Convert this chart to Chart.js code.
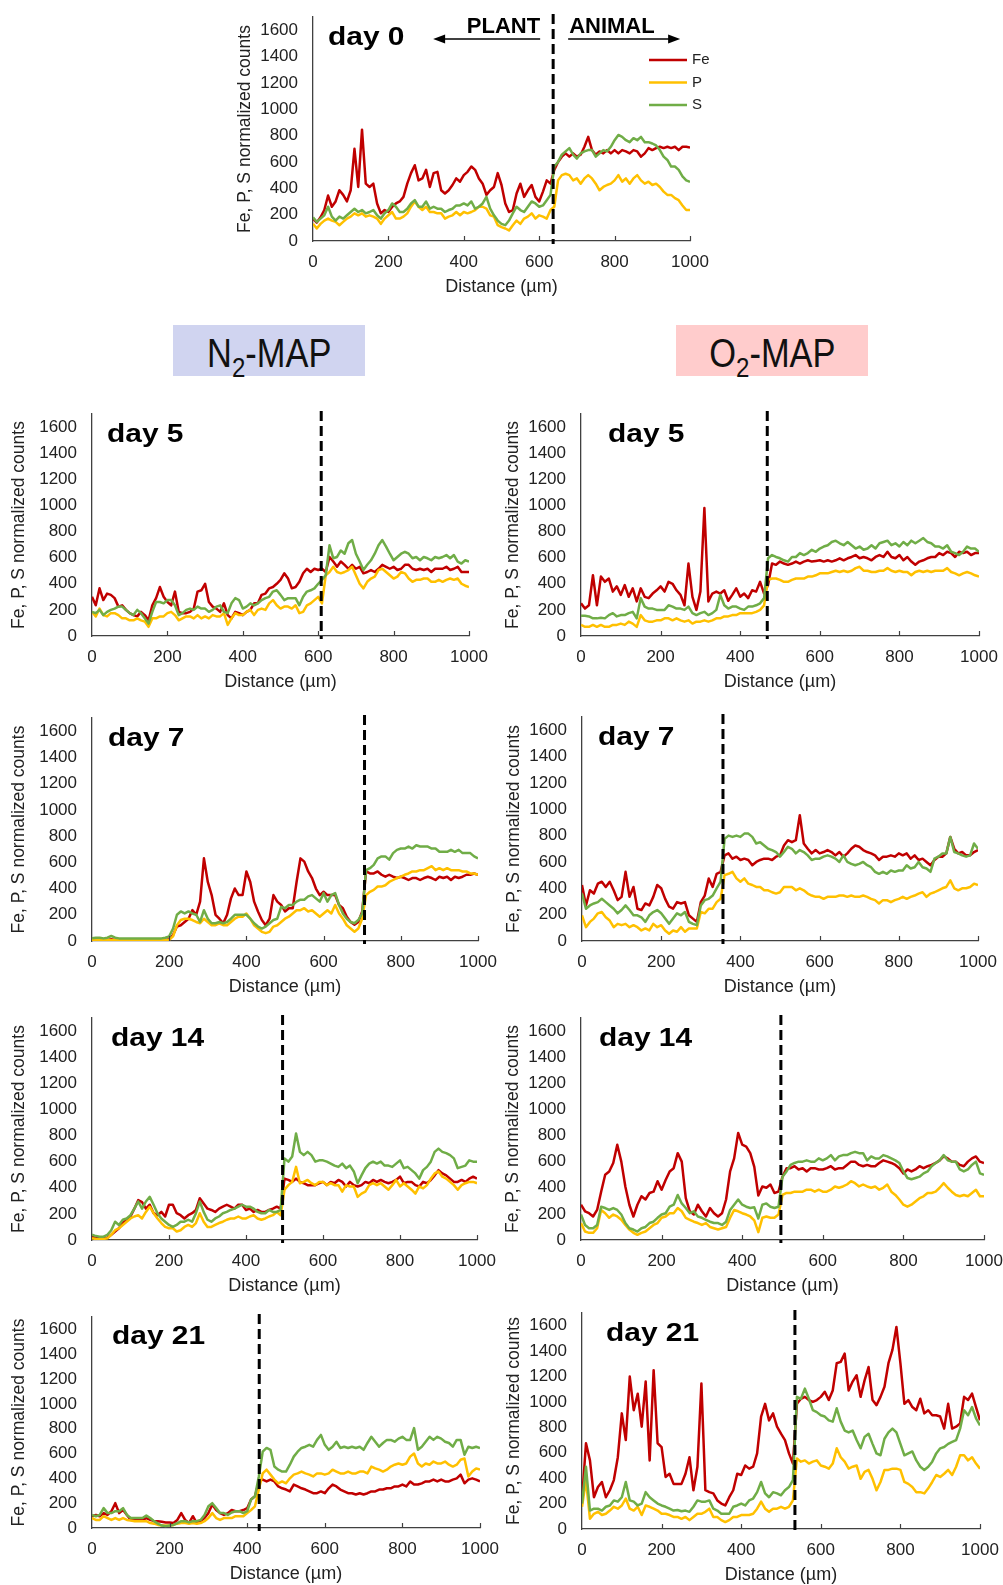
<!DOCTYPE html>
<html>
<head>
<meta charset="utf-8">
<script src="https://cdn.jsdelivr.net/npm/chart.js@4.4.0/dist/chart.umd.min.js"></script>
<style>
    body { margin: 0; background: #fff; width: 1003px; height: 1585px; position: relative; overflow: hidden;
           font-family: "Liberation Sans", Arial, sans-serif; }
    canvas { position: absolute; }
    .tag { position: absolute; top: 325px; width: 192px; height: 51px; display: flex; align-items: center; justify-content: center; }
    .tag span { font-size: 40px; color: #111; display: inline-block; transform: scaleX(0.86); line-height: 1; margin-top: 4px; }
    .tag sub { font-size: 28px; vertical-align: -10px; line-height: 0; }
</style>
</head>
<body>
<div class="tag" style="left:173px;background:#d0d4f0"><span>N<sub>2</sub>-MAP</span></div>
<div class="tag" style="left:676px;background:#ffcccc"><span>O<sub>2</sub>-MAP</span></div>
<script>
var distance = [0, 10, 20, 30, 40, 50, 60, 70, 80, 90, 100, 110, 120, 130, 140, 150, 160, 170, 180, 190,
    200, 210, 220, 230, 240, 250, 260, 270, 280, 290, 300, 310, 320, 330, 340, 350, 360, 370, 380, 390,
    400, 410, 420, 430, 440, 450, 460, 470, 480, 490, 500, 510, 520, 530, 540, 550, 560, 570, 580, 590,
    600, 610, 620, 630, 640, 650, 660, 670, 680, 690, 700, 710, 720, 730, 740, 750, 760, 770, 780, 790,
    800, 810, 820, 830, 840, 850, 860, 870, 880, 890, 900, 910, 920, 930, 940, 950, 960, 970, 980, 990, 1000];
var xTicks = [0, 200, 400, 600, 800, 1000];
var yTicks = [0, 200, 400, 600, 800, 1000, 1200, 1400, 1600];
var seriesNames = ["Fe", "P", "S"];

// day 0
var day0Fe = [170, 140, 180, 235, 345, 260, 300, 385, 350, 300, 385, 700, 410, 845, 435, 410, 435, 285, 210, 235,
    220, 260, 285, 300, 335, 435, 515, 575, 460, 475, 540, 410, 515, 525, 385, 360, 385, 425, 475, 450,
    500, 525, 565, 540, 475, 435, 350, 385, 410, 515, 425, 285, 220, 235, 360, 435, 335, 385, 425, 335,
    300, 375, 460, 435, 540, 600, 640, 665, 640, 665, 640, 655, 715, 790, 690, 655, 680, 665, 690, 665,
    690, 665, 690, 680, 665, 690, 680, 640, 665, 705, 690, 705, 715, 705, 715, 705, 715, 690, 715, 715, 710];
var day0P = [130, 95, 130, 155, 170, 155, 145, 120, 145, 170, 185, 210, 195, 210, 185, 195, 185, 170, 130, 170,
    195, 220, 170, 170, 185, 210, 260, 300, 260, 235, 260, 220, 220, 210, 210, 170, 185, 195, 220, 195,
    220, 210, 220, 235, 260, 260, 245, 195, 185, 120, 105, 95, 80, 120, 155, 130, 170, 185, 210, 170,
    195, 185, 170, 235, 260, 460, 500, 510, 500, 460, 475, 435, 475, 500, 475, 435, 385, 410, 425, 435,
    460, 500, 450, 475, 435, 475, 500, 460, 435, 450, 425, 435, 410, 375, 350, 350, 325, 310, 270, 235, 235];
var day0S = [180, 145, 170, 195, 260, 185, 155, 185, 170, 195, 220, 245, 220, 235, 210, 220, 235, 195, 170, 210,
    235, 285, 260, 220, 220, 245, 285, 310, 260, 260, 300, 245, 260, 245, 245, 220, 235, 245, 270, 270,
    285, 270, 300, 245, 260, 285, 335, 245, 195, 155, 130, 120, 155, 210, 260, 235, 220, 260, 300, 285,
    260, 270, 310, 350, 565, 600, 655, 680, 705, 655, 625, 665, 680, 690, 690, 640, 665, 690, 680, 715,
    765, 805, 790, 765, 750, 780, 765, 790, 750, 750, 740, 725, 690, 640, 615, 565, 565, 540, 490, 460, 450];

// N2-MAP day 5
var n2d5Fe = [300, 235, 365, 275, 325, 315, 290, 225, 235, 200, 175, 160, 150, 185, 160, 120, 235, 290, 375, 300,
    260, 235, 340, 185, 175, 175, 185, 210, 340, 350, 400, 260, 225, 210, 185, 250, 160, 135, 185, 175,
    160, 185, 200, 250, 250, 315, 325, 365, 375, 400, 430, 480, 440, 365, 375, 415, 480, 515, 490, 515,
    505, 515, 490, 605, 570, 530, 570, 545, 515, 545, 515, 530, 480, 490, 505, 490, 515, 545, 530, 515,
    530, 505, 515, 545, 545, 515, 505, 515, 505, 515, 490, 515, 515, 515, 530, 505, 515, 530, 490, 490, 490];
var n2d5P = [185, 150, 210, 160, 150, 175, 175, 160, 135, 135, 120, 120, 135, 120, 110, 70, 135, 135, 150, 150,
    175, 185, 160, 120, 135, 150, 150, 135, 160, 135, 150, 135, 160, 150, 150, 175, 85, 135, 175, 160,
    160, 185, 200, 160, 200, 210, 200, 250, 275, 235, 210, 225, 225, 210, 235, 175, 185, 235, 250, 275,
    300, 250, 465, 490, 530, 490, 480, 490, 505, 530, 465, 400, 365, 415, 440, 455, 505, 515, 490, 465,
    440, 455, 490, 480, 440, 415, 430, 430, 440, 440, 415, 415, 430, 415, 430, 440, 430, 440, 400, 385, 375];
var n2d5S = [185, 175, 200, 160, 185, 200, 210, 225, 225, 200, 175, 160, 200, 175, 135, 95, 185, 260, 260, 250,
    275, 275, 235, 160, 175, 200, 210, 200, 225, 210, 210, 185, 200, 225, 235, 185, 175, 250, 290, 275,
    210, 225, 250, 235, 250, 275, 290, 300, 340, 350, 315, 275, 290, 290, 290, 235, 300, 340, 350, 365,
    400, 430, 465, 695, 595, 605, 655, 630, 710, 735, 630, 570, 505, 545, 580, 630, 695, 735, 685, 630,
    580, 605, 630, 645, 630, 595, 605, 580, 605, 595, 580, 605, 595, 605, 620, 595, 620, 570, 555, 580, 570];

// O2-MAP day 5
var o2d5Fe = [250, 210, 235, 465, 235, 455, 415, 440, 340, 380, 315, 390, 300, 365, 265, 365, 300, 290, 325, 350,
    380, 340, 415, 400, 350, 315, 235, 555, 300, 200, 340, 980, 265, 325, 340, 325, 350, 270, 315, 365,
    300, 325, 290, 350, 340, 415, 325, 390, 555, 545, 570, 555, 545, 555, 570, 555, 570, 580, 570, 575,
    580, 570, 580, 570, 580, 595, 580, 595, 605, 620, 595, 605, 595, 580, 605, 620, 605, 645, 605, 595,
    620, 580, 605, 570, 545, 570, 580, 595, 605, 605, 635, 620, 645, 635, 605, 645, 635, 645, 620, 635, 635];
var o2d5P = [85, 70, 70, 85, 70, 85, 70, 70, 85, 85, 95, 85, 110, 95, 70, 160, 120, 110, 110, 120,
    120, 135, 135, 120, 135, 120, 110, 120, 95, 110, 110, 120, 110, 120, 135, 135, 150, 150, 160, 160,
    175, 175, 175, 175, 185, 200, 235, 430, 440, 440, 430, 415, 415, 430, 440, 440, 440, 455, 455, 465,
    480, 480, 480, 490, 500, 490, 500, 490, 500, 520, 530, 500, 500, 490, 490, 500, 500, 520, 500, 490,
    500, 490, 490, 465, 490, 500, 490, 500, 490, 500, 500, 500, 520, 490, 480, 465, 480, 490, 480, 465, 455];
var o2d5S = [155, 155, 150, 135, 135, 140, 135, 160, 175, 150, 160, 160, 175, 185, 135, 290, 225, 210, 210, 200,
    200, 200, 235, 225, 210, 210, 200, 225, 175, 160, 175, 185, 160, 175, 200, 315, 235, 210, 225, 225,
    210, 200, 225, 225, 235, 250, 290, 595, 620, 605, 595, 580, 570, 605, 605, 635, 620, 635, 660, 645,
    670, 685, 695, 720, 730, 710, 695, 720, 695, 670, 685, 660, 670, 695, 670, 710, 720, 730, 695, 710,
    685, 720, 695, 730, 710, 730, 750, 720, 710, 685, 685, 670, 695, 645, 635, 620, 645, 685, 670, 670, 645];

// N2-MAP day 7
var n2d7Fe = [20, 8, 8, 8, 8, 13, 8, 8, 8, 8, 8, 8, 8, 8, 8, 8, 8, 8, 8, 8,
    13, 45, 110, 120, 145, 170, 235, 200, 300, 630, 450, 350, 200, 170, 135, 200, 325, 400, 350, 350,
    530, 450, 300, 225, 160, 120, 170, 350, 300, 275, 225, 250, 250, 450, 630, 605, 530, 480, 400, 350,
    375, 350, 350, 350, 275, 250, 185, 145, 125, 145, 225, 530, 515, 515, 530, 505, 490, 505, 490, 480,
    490, 480, 465, 480, 480, 465, 480, 490, 480, 465, 490, 480, 490, 465, 490, 480, 490, 505, 505, 515, 505];
var n2d7P = [8, 8, 8, 8, 8, 8, 8, 8, 8, 8, 8, 8, 8, 8, 8, 8, 8, 8, 8, 8,
    8, 35, 120, 160, 170, 170, 160, 145, 135, 170, 145, 120, 120, 135, 120, 120, 145, 170, 185, 185,
    210, 170, 120, 95, 70, 60, 70, 110, 120, 145, 170, 185, 210, 235, 235, 250, 225, 235, 210, 185,
    210, 235, 210, 275, 210, 170, 120, 95, 70, 95, 170, 350, 375, 390, 415, 415, 425, 450, 465, 480,
    490, 505, 515, 530, 530, 540, 540, 555, 570, 540, 555, 540, 555, 540, 540, 540, 530, 530, 515, 515, 505];
var n2d7S = [20, 25, 25, 20, 25, 38, 25, 20, 20, 20, 20, 20, 20, 20, 20, 20, 20, 20, 20, 25,
    35, 95, 200, 225, 210, 225, 210, 200, 145, 235, 170, 135, 135, 145, 135, 145, 170, 200, 200, 200,
    200, 170, 135, 110, 95, 110, 135, 160, 170, 260, 250, 275, 275, 300, 315, 315, 340, 350, 325, 300,
    365, 300, 350, 365, 275, 210, 170, 145, 135, 160, 210, 540, 555, 580, 630, 645, 645, 620, 670, 695,
    705, 705, 720, 705, 730, 720, 720, 720, 705, 705, 680, 680, 680, 695, 680, 695, 670, 670, 670, 645, 630];

// O2-MAP day 7
var o2d7Fe = [425, 270, 385, 360, 435, 450, 410, 450, 385, 310, 335, 525, 335, 410, 245, 235, 285, 270, 335, 425,
    400, 320, 260, 245, 295, 285, 295, 195, 170, 145, 295, 345, 475, 410, 510, 525, 650, 665, 625, 640,
    615, 625, 615, 575, 600, 615, 625, 625, 615, 640, 650, 725, 765, 750, 765, 955, 740, 700, 665, 690,
    665, 675, 690, 675, 650, 675, 640, 665, 700, 725, 715, 690, 675, 665, 650, 615, 640, 640, 650, 640,
    665, 650, 665, 625, 650, 615, 625, 600, 575, 615, 640, 640, 665, 790, 700, 665, 675, 650, 650, 675, 690];
var o2d7P = [195, 105, 145, 170, 210, 220, 180, 155, 105, 130, 120, 130, 105, 120, 105, 80, 95, 80, 130, 105,
    120, 80, 55, 80, 70, 105, 70, 95, 95, 95, 220, 210, 245, 245, 295, 320, 500, 510, 525, 475,
    450, 475, 435, 425, 410, 410, 385, 385, 370, 360, 370, 410, 410, 410, 385, 400, 385, 360, 345, 335,
    335, 320, 335, 335, 335, 345, 345, 335, 345, 335, 335, 345, 335, 320, 310, 285, 310, 310, 295, 310,
    320, 335, 320, 335, 345, 360, 370, 335, 360, 370, 385, 400, 410, 460, 400, 385, 400, 400, 410, 435, 425];
var o2d7S = [360, 245, 270, 285, 295, 320, 295, 270, 245, 210, 235, 270, 235, 195, 195, 180, 145, 195, 220, 235,
    210, 170, 130, 170, 210, 195, 220, 145, 130, 120, 270, 310, 320, 345, 400, 450, 775, 800, 790, 800,
    790, 815, 815, 790, 740, 750, 725, 700, 690, 675, 640, 675, 715, 700, 665, 690, 675, 650, 615, 625,
    625, 640, 650, 640, 625, 600, 650, 600, 585, 575, 585, 600, 575, 560, 525, 510, 525, 510, 535, 525,
    535, 535, 575, 550, 560, 600, 560, 550, 525, 625, 640, 665, 665, 790, 675, 665, 650, 640, 650, 740, 700];

// N2-MAP day 14
var n2d14Fe = [25, 18, 13, 13, 18, 40, 65, 90, 130, 155, 180, 240, 305, 290, 240, 270, 205, 190, 215, 180,
    270, 270, 205, 190, 165, 190, 205, 230, 320, 280, 240, 230, 215, 240, 255, 270, 255, 240, 270, 270,
    230, 240, 215, 230, 215, 215, 230, 240, 255, 240, 470, 460, 445, 470, 445, 435, 420, 420, 420, 435,
    445, 420, 445, 435, 460, 445, 410, 445, 420, 410, 420, 445, 435, 460, 445, 460, 445, 435, 445, 460,
    485, 435, 445, 445, 420, 410, 445, 435, 460, 495, 535, 510, 495, 470, 445, 445, 460, 445, 470, 485, 470];
var n2d14P = [13, 8, 5, 8, 13, 40, 75, 90, 115, 140, 165, 180, 190, 165, 215, 255, 205, 165, 130, 100,
    90, 90, 65, 75, 100, 115, 100, 130, 205, 140, 100, 100, 115, 130, 140, 155, 165, 165, 180, 165,
    165, 180, 190, 165, 155, 165, 180, 190, 215, 190, 385, 420, 445, 560, 435, 445, 460, 435, 420, 445,
    445, 420, 435, 420, 420, 370, 420, 410, 410, 330, 355, 370, 420, 435, 420, 435, 410, 385, 420, 460,
    410, 435, 410, 385, 355, 410, 395, 420, 470, 510, 525, 485, 470, 445, 420, 385, 420, 435, 445, 445, 435];
var n2d14S = [40, 30, 25, 25, 40, 75, 140, 115, 155, 165, 190, 240, 295, 240, 295, 330, 270, 205, 165, 140,
    115, 100, 115, 140, 140, 155, 140, 205, 295, 215, 155, 140, 165, 180, 205, 215, 230, 240, 255, 270,
    255, 255, 240, 215, 205, 205, 230, 215, 215, 230, 625, 600, 640, 815, 675, 650, 675, 650, 600, 610,
    610, 600, 585, 570, 560, 585, 550, 570, 525, 435, 495, 550, 585, 600, 585, 600, 570, 570, 560, 585,
    610, 550, 560, 535, 510, 470, 535, 560, 600, 675, 700, 675, 665, 650, 625, 550, 560, 570, 610, 600, 600];

// O2-MAP day 14
var o2d14Fe = [270, 220, 205, 180, 230, 370, 500, 525, 590, 730, 600, 410, 270, 180, 270, 335, 310, 360, 370, 450,
    385, 460, 525, 550, 665, 600, 320, 220, 195, 270, 220, 180, 245, 205, 180, 205, 310, 525, 625, 820,
    730, 715, 665, 560, 340, 410, 400, 425, 360, 370, 485, 550, 550, 565, 540, 550, 525, 550, 550, 540,
    540, 550, 565, 540, 550, 550, 575, 600, 600, 575, 565, 575, 565, 565, 590, 610, 600, 590, 575, 550,
    510, 540, 525, 540, 565, 550, 565, 575, 590, 610, 640, 625, 600, 600, 575, 565, 600, 625, 640, 600, 590];
var o2d14P = [130, 65, 55, 55, 90, 230, 205, 170, 195, 180, 155, 115, 80, 55, 40, 55, 65, 90, 115, 130,
    170, 180, 205, 205, 245, 220, 170, 155, 140, 130, 115, 130, 100, 90, 80, 90, 100, 170, 230, 220,
    205, 195, 180, 150, 60, 170, 180, 170, 170, 195, 345, 360, 360, 370, 370, 370, 385, 385, 370, 385,
    370, 370, 385, 410, 400, 410, 425, 450, 435, 410, 425, 410, 400, 410, 385, 400, 425, 370, 345, 310,
    270, 255, 270, 295, 320, 335, 360, 360, 370, 400, 435, 400, 370, 345, 335, 345, 335, 360, 385, 335, 335];
var o2d14S = [195, 115, 90, 90, 115, 255, 245, 230, 245, 230, 195, 130, 90, 80, 65, 90, 100, 130, 140, 170,
    195, 205, 255, 270, 345, 280, 245, 205, 220, 180, 170, 155, 140, 130, 130, 115, 140, 230, 270, 310,
    270, 255, 245, 250, 165, 270, 280, 255, 245, 255, 485, 525, 575, 590, 600, 600, 610, 600, 600, 625,
    610, 625, 650, 610, 640, 650, 650, 665, 675, 665, 665, 610, 640, 625, 625, 650, 640, 625, 610, 590,
    525, 475, 465, 475, 485, 510, 525, 565, 590, 610, 650, 610, 600, 600, 540, 525, 540, 575, 600, 510, 500];

// N2-MAP day 21
var n2d21Fe = [95, 105, 95, 120, 105, 135, 200, 120, 145, 105, 65, 65, 65, 65, 80, 65, 55, 55, 50, 45,
    45, 40, 65, 120, 65, 40, 95, 40, 55, 80, 120, 190, 145, 120, 105, 120, 145, 135, 135, 145,
    160, 230, 255, 375, 390, 375, 390, 375, 335, 320, 310, 295, 350, 335, 320, 310, 295, 280, 280, 295,
    280, 320, 350, 335, 310, 295, 280, 280, 270, 280, 270, 280, 295, 295, 310, 310, 320, 320, 335, 335,
    350, 335, 375, 350, 350, 360, 375, 375, 390, 375, 390, 375, 375, 390, 400, 430, 360, 390, 400, 390, 375];
var n2d21P = [80, 65, 65, 95, 80, 65, 80, 65, 80, 65, 60, 55, 55, 55, 55, 40, 35, 25, 20, 20,
    20, 25, 35, 40, 40, 35, 40, 35, 40, 55, 80, 120, 80, 65, 80, 80, 80, 95, 95, 95,
    120, 145, 175, 310, 440, 470, 430, 390, 360, 375, 360, 400, 430, 440, 455, 440, 430, 415, 440, 440,
    430, 440, 470, 455, 440, 440, 455, 440, 440, 455, 455, 440, 495, 480, 470, 455, 470, 495, 510, 520,
    510, 520, 575, 600, 520, 495, 520, 510, 535, 520, 520, 535, 510, 495, 510, 550, 560, 415, 455, 480, 470];
var n2d21S = [105, 95, 105, 160, 120, 120, 135, 135, 160, 105, 80, 80, 80, 80, 100, 80, 55, 35, 20, 15,
    20, 25, 40, 55, 55, 45, 55, 55, 65, 105, 175, 200, 160, 120, 120, 105, 125, 135, 135, 120,
    135, 230, 255, 415, 615, 645, 630, 495, 470, 455, 455, 510, 575, 615, 645, 655, 670, 655, 710, 750,
    670, 630, 655, 695, 645, 655, 645, 655, 645, 655, 630, 685, 735, 695, 655, 685, 710, 710, 695, 720,
    735, 710, 710, 805, 630, 655, 695, 735, 710, 735, 720, 695, 685, 655, 710, 710, 590, 655, 645, 655, 645];

// O2-MAP day 21
var o2d21Fe = [225, 675, 540, 250, 330, 370, 250, 305, 385, 565, 910, 700, 1200, 935, 1065, 805, 1160, 540, 1250, 675,
    645, 410, 435, 355, 355, 355, 435, 565, 305, 490, 1145, 305, 290, 280, 225, 200, 185, 250, 305, 435,
    425, 500, 475, 490, 595, 885, 985, 855, 910, 805, 750, 700, 595, 515, 985, 1025, 1040, 1015, 1000, 1015,
    1040, 1080, 1015, 1090, 1305, 1315, 1380, 1090, 1160, 1210, 1040, 1170, 1275, 1015, 975, 1040, 1120, 1305, 1410, 1590,
    1305, 985, 1015, 960, 935, 1025, 910, 935, 895, 895, 885, 790, 985, 790, 805, 830, 1040, 1015, 1065, 960, 855];
var o2d21P = [175, 385, 80, 120, 135, 110, 120, 145, 175, 160, 185, 240, 160, 145, 175, 110, 185, 175, 160, 145,
    120, 120, 110, 95, 95, 80, 95, 70, 95, 120, 120, 135, 160, 95, 95, 70, 55, 70, 95, 95,
    110, 110, 110, 120, 160, 215, 160, 135, 160, 160, 175, 160, 175, 225, 555, 530, 540, 515, 530, 540,
    500, 490, 475, 515, 635, 565, 530, 475, 490, 500, 395, 450, 465, 395, 305, 370, 465, 465, 475, 475,
    465, 370, 355, 330, 290, 290, 280, 320, 370, 425, 410, 435, 465, 425, 490, 580, 580, 540, 565, 515, 475];
var o2d21S = [200, 490, 145, 160, 160, 145, 175, 185, 225, 215, 250, 370, 225, 215, 185, 200, 290, 250, 225, 200,
    185, 175, 160, 145, 150, 140, 145, 135, 175, 225, 215, 215, 225, 160, 145, 120, 120, 120, 175, 185,
    200, 185, 225, 240, 290, 370, 280, 250, 290, 280, 265, 305, 330, 385, 1040, 1025, 1105, 1025, 935, 920,
    895, 885, 855, 845, 950, 845, 775, 760, 775, 700, 635, 725, 750, 670, 595, 580, 710, 760, 790, 760,
    670, 580, 595, 610, 540, 490, 465, 490, 530, 595, 635, 645, 670, 685, 700, 790, 935, 895, 960, 870, 815];

// plant / animal boundary of each profile (µm)
var boundaries = { d0: 637, n2d5: 608, o2d5: 468, n2d7: 706, o2d7: 356, n2d14: 495, o2d14: 496, n2d21: 431, o2d21: 535 };

var colors = ["#c00000", "#ffc000", "#70ad47"];
var FONT = "'Liberation Sans', Arial, sans-serif";
var TEXT = "#222222";
var PAD_L = 88, PAD_T = 30, PAD_R = 36, X_AXIS_H = 57;

Chart.defaults.font.family = FONT;
Chart.defaults.color = TEXT;

// titlePad moves the rotated y title towards or away from the axis
var panels = [
    {key: "d0", label: "day 0", series: [day0Fe, day0P, day0S], left: 313, right: 690, top: 17, bottom: 241, labelDx: 15, titlePad: 10, legend: true},
    {key: "n2d5", label: "day 5", series: [n2d5Fe, n2d5P, n2d5S], left: 92, right: 469, top: 414, bottom: 636, labelDx: 15, titlePad: 5},
    {key: "o2d5", label: "day 5", series: [o2d5Fe, o2d5P, o2d5S], left: 581, right: 979, top: 414, bottom: 636, labelDx: 27, titlePad: 10},
    {key: "n2d7", label: "day 7", series: [n2d7Fe, n2d7P, n2d7S], left: 92, right: 478, top: 718, bottom: 941, labelDx: 16, titlePad: 5},
    {key: "o2d7", label: "day 7", series: [o2d7Fe, o2d7P, o2d7S], left: 582, right: 978, top: 717, bottom: 941, labelDx: 16, titlePad: 10},
    {key: "n2d14", label: "day 14", series: [n2d14Fe, n2d14P, n2d14S], left: 92, right: 477, top: 1018, bottom: 1240, labelDx: 19, titlePad: 5},
    {key: "o2d14", label: "day 14", series: [o2d14Fe, o2d14P, o2d14S], left: 581, right: 984, top: 1018, bottom: 1240, labelDx: 18, titlePad: 10},
    {key: "n2d21", label: "day 21", series: [n2d21Fe, n2d21P, n2d21S], left: 92, right: 480, top: 1317, bottom: 1528, labelDx: 20, titlePad: 5},
    {key: "o2d21", label: "day 21", series: [o2d21Fe, o2d21P, o2d21S], left: 582, right: 980, top: 1313, bottom: 1529, labelDx: 24, titlePad: 10}
];

function arrow(ctx, x1, x2, y) {
    var dir = x2 > x1 ? 1 : -1;
    ctx.beginPath();
    ctx.moveTo(x1, y);
    ctx.lineTo(x2 - dir * 10, y);
    ctx.stroke();
    ctx.beginPath();
    ctx.moveTo(x2, y);
    ctx.lineTo(x2 - dir * 12, y - 4.5);
    ctx.lineTo(x2 - dir * 12, y + 4.5);
    ctx.closePath();
    ctx.fill();
}

var overlay = {
    id: "overlay",
    afterDatasetsDraw: function (chart) {
        var p = chart.options.plugins.overlay;
        var ctx = chart.ctx, area = chart.chartArea;
        var xs = chart.scales.x, ys = chart.scales.y;
        ctx.save();
        // small inside tick marks on the x axis
        ctx.strokeStyle = "#404040";
        ctx.lineWidth = 1.2;
        xTicks.forEach(function (v) {
            if (v === 0) return;
            var px = Math.round(xs.getPixelForValue(v)) + 0.5;
            ctx.beginPath();
            ctx.moveTo(px, area.bottom);
            ctx.lineTo(px, area.bottom - 5);
            ctx.stroke();
        });
        // boundary between plant and animal tissue
        var bx = xs.getPixelForValue(boundaries[p.key]);
        ctx.strokeStyle = "#000";
        ctx.lineWidth = 3;
        ctx.setLineDash([10, 5]);
        ctx.beginPath();
        ctx.moveTo(bx, area.top - 3);
        ctx.lineTo(bx, area.bottom + 3);
        ctx.stroke();
        ctx.setLineDash([]);
        // day label
        ctx.fillStyle = "#000";
        ctx.font = "bold 26px " + FONT;
        ctx.textBaseline = "alphabetic";
        ctx.textAlign = "left";
        ctx.save();
        ctx.translate(area.left + p.labelDx, ys.getPixelForValue(1600) + 15);
        ctx.scale(1.15, 1);
        ctx.fillText(p.label, 0, 0);
        ctx.restore();
        if (p.legend) {
            ctx.font = "bold 22px " + FONT;
            ctx.textAlign = "right";
            ctx.fillText("PLANT", bx - 13, area.top + 16);
            ctx.textAlign = "left";
            ctx.fillText("ANIMAL", bx + 16, area.top + 16);
            ctx.strokeStyle = "#000";
            ctx.lineWidth = 1.3;
            arrow(ctx, bx - 13, bx - 120, area.top + 22);
            arrow(ctx, bx + 15, bx + 127, area.top + 22);
            ctx.font = "15px " + FONT;
            ctx.textBaseline = "middle";
            ctx.lineWidth = 2.5;
            seriesNames.forEach(function (name, i) {
                var ly = area.top + 43 + i * 22.5;
                ctx.strokeStyle = colors[i];
                ctx.beginPath();
                ctx.moveTo(area.right - 41, ly);
                ctx.lineTo(area.right - 3, ly);
                ctx.stroke();
                ctx.fillStyle = "#222";
                ctx.fillText(name, area.right + 2, ly);
            });
        }
        ctx.restore();
    }
};

function plainNumber(value) {
    return String(value);
}

function makePanel(p) {
    var canvas = document.createElement("canvas");
    var plotW = p.right - p.left, plotH = p.bottom - p.top;
    canvas.width = plotW + PAD_L + PAD_R;
    canvas.height = plotH + PAD_T + X_AXIS_H + 3;
    canvas.style.left = (p.left - PAD_L) + "px";
    canvas.style.top = (p.top - PAD_T) + "px";
    document.body.appendChild(canvas);

    var datasets = p.series.map(function (vals, i) {
        return {
            label: seriesNames[i],
            data: distance.map(function (d, j) { return {x: d, y: vals[j]}; }),
            borderColor: colors[i],
            borderWidth: 2.5,
            pointRadius: 0,
            tension: 0,
            borderJoinStyle: "round",
            fill: false,
            order: 2 - i
        };
    });

    new Chart(canvas.getContext("2d"), {
        type: "line",
        data: {datasets: datasets},
        options: {
            responsive: false,
            animation: false,
            devicePixelRatio: 1,
            layout: {padding: {top: PAD_T, right: PAD_R, bottom: 3, left: 0}},
            plugins: {
                legend: {display: false},
                tooltip: {enabled: false},
                overlay: p
            },
            scales: {
                x: {
                    type: "linear",
                    min: 0,
                    max: 1000,
                    afterBuildTicks: function (scale) {
                        scale.ticks = xTicks.map(function (v) { return {value: v}; });
                    },
                    afterFit: function (scale) { scale.height = X_AXIS_H; },
                    grid: {display: false, drawTicks: false},
                    border: {display: true, color: "#404040", width: 1.3},
                    ticks: {padding: 11, font: {size: 17}, color: TEXT, maxRotation: 0, autoSkip: false, callback: plainNumber},
                    title: {display: true, text: "Distance (µm)", font: {size: 18}, color: TEXT, padding: {top: 0, bottom: 0}}
                },
                y: {
                    min: 0,
                    max: 1700,
                    afterBuildTicks: function (scale) {
                        scale.ticks = yTicks.map(function (v) { return {value: v}; });
                    },
                    afterFit: function (scale) { scale.width = PAD_L; },
                    grid: {display: false, drawTicks: false},
                    border: {display: true, color: "#404040", width: 1.3},
                    ticks: {padding: 15, font: {size: 17}, color: TEXT, autoSkip: false, callback: plainNumber},
                    title: {display: true, text: "Fe, P, S normalized counts", font: {size: 17.5}, color: TEXT, padding: {top: p.titlePad, bottom: 0}}
                }
            }
        },
        plugins: [overlay]
    });
}

panels.forEach(makePanel);
</script>
</body>
</html>
